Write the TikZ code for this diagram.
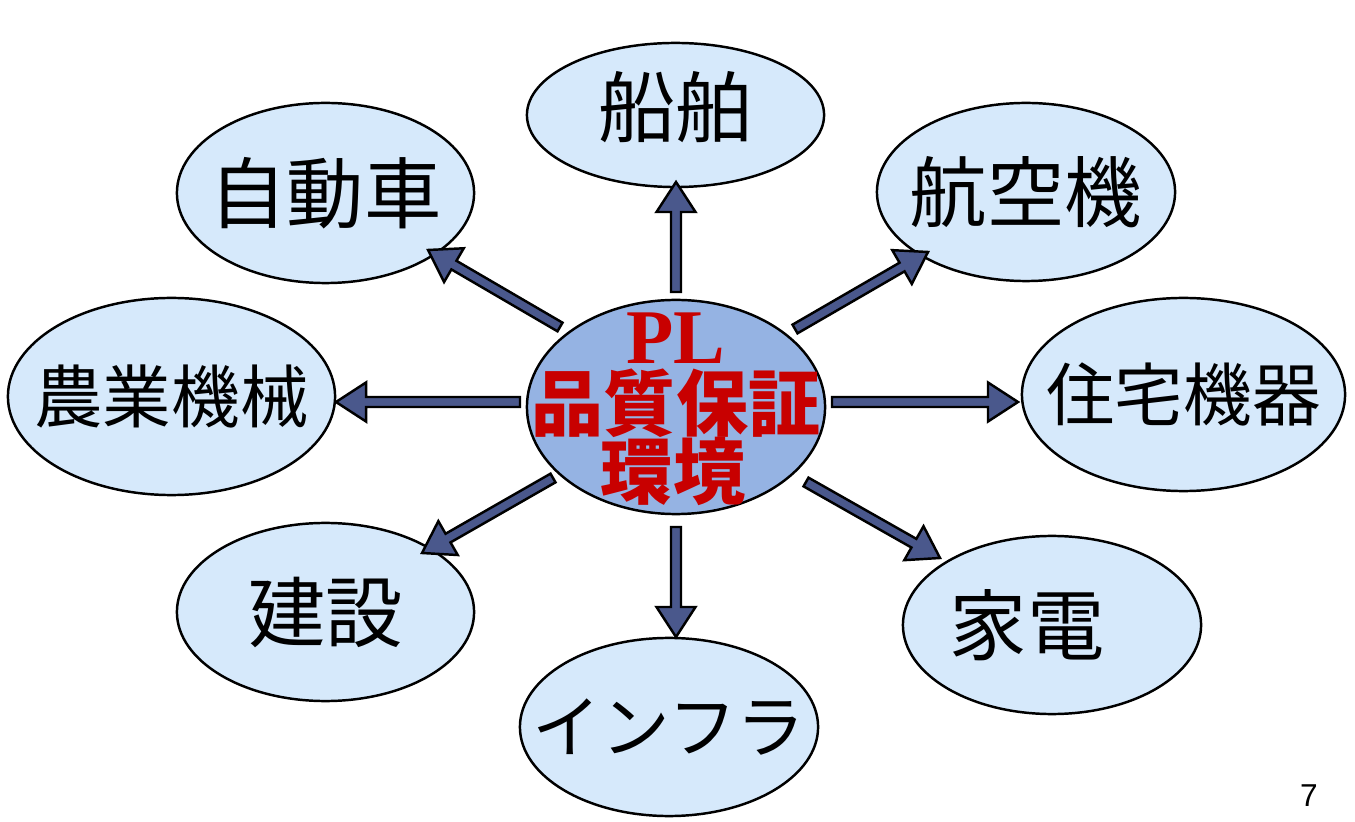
\documentclass[tikz,border=0pt]{standalone}
\usepackage{fontspec}
\setmainfont{Liberation Sans}
\newfontfamily\jp{Noto Sans CJK JP}
\newfontfamily\plserif{Liberation Serif}
\usetikzlibrary{shapes.geometric,calc}
\definecolor{ellfill}{RGB}{214,233,251}
\definecolor{midfill}{RGB}{149,179,227}
\definecolor{arrfill}{RGB}{74,88,140}
\definecolor{plred}{RGB}{200,0,0}
\tikzset{
  ell/.style={ellipse, draw=black, line width=0.7pt, fill=ellfill, inner sep=0pt},
  lab/.style={font=\jp\fontsize{22}{22}\selectfont, text=black},
  labs/.style={font=\jp\fontsize{19.5}{19.5}\selectfont, text=black},
  arr/.style={draw=black, line width=0.7pt, fill=arrfill, line join=miter},
}
\newcommand\blockarr[2]{%
  \coordinate (bac) at ($(#2)!0.30cm!(#1)$);
  \draw[arr] ($(#1)!0.05cm!90:(#2)$) -- ($(bac)!0.05cm!90:(#2)$) -- ($(bac)!0.195cm!90:(#2)$)
    -- (#2) -- ($(bac)!0.195cm!-90:(#2)$) -- ($(bac)!0.05cm!-90:(#2)$) -- ($(#1)!0.05cm!-90:(#2)$) -- cycle;
}
\begin{document}
\begin{tikzpicture}[x=0.01cm,y=-0.01cm]
\useasboundingbox (0,0) rectangle (1355,822);
% outer ellipses
\node[ell, minimum width=2.97cm, minimum height=1.44cm, label={[lab,yshift=0.08cm]center:船舶}] (ship) at (675.5,115) {};
\node[ell, minimum width=2.97cm, minimum height=1.80cm, label={[lab]center:自動車}] (car) at (325.5,193) {};
\node[ell, minimum width=2.98cm, minimum height=1.78cm, label={[lab]center:航空機}] (air) at (1026,192) {};
\node[ell, minimum width=3.27cm, minimum height=1.97cm, label={[labs]center:農業機械}] (agri) at (171.5,396.5) {};
\node[ell, minimum width=3.23cm, minimum height=1.93cm, label={[labs]center:住宅機器}] (house) at (1183.5,394.5) {};
\node[ell, minimum width=2.97cm, minimum height=1.78cm, label={[lab]center:建設}] (build) at (325.5,612) {};
\node[ell, minimum width=2.98cm, minimum height=1.78cm, label={[lab,xshift=-0.25cm]center:家電}] (elec) at (1052,625) {};
\node[ell, minimum width=2.98cm, minimum height=1.78cm, label={[labs]center:インフラ}] (infra) at (669,727) {};
% center
\node[ellipse, draw=black, line width=0.7pt, fill=midfill, inner sep=0pt, minimum width=2.98cm, minimum height=2.14cm] (c) at (676,407) {};
\node[text=plred, inner sep=0pt, font=\plserif\bfseries\fontsize{22}{22}\selectfont] (pl) at (676,338) {PL};
\node[text=plred, inner sep=0pt, font=\jp\bfseries\fontsize{20.5}{20.5}\selectfont] (qa) at (676,403) {品質保証};
\node[text=plred, inner sep=0pt, font=\jp\bfseries\fontsize{20.5}{20.5}\selectfont] (env) at (673,471) {環境};
% arrow end points
\coordinate (t1) at (676,292);  \coordinate (h1) at (676,182);
\coordinate (t2) at (560,327);  \coordinate (h2) at (428,250);
\coordinate (t3) at (795,329);  \coordinate (h3) at (928,252);
\coordinate (t4) at (520,402);  \coordinate (h4) at (336,402);
\coordinate (t5) at (832,402);  \coordinate (h5) at (1018,402);
\coordinate (t6) at (553,478);  \coordinate (h6) at (422,553);
\coordinate (t7) at (806,482);  \coordinate (h7) at (940,558);
\coordinate (t8) at (676,527);  \coordinate (h8) at (676,637);
\blockarr{t1}{h1}
\blockarr{t2}{h2}
\blockarr{t3}{h3}
\blockarr{t4}{h4}
\blockarr{t5}{h5}
\blockarr{t6}{h6}
\blockarr{t7}{h7}
\blockarr{t8}{h8}
% page number
\node[font=\fontsize{9}{9}\selectfont, inner sep=0pt] (pg) at (1309,796) {7};
\end{tikzpicture}
\end{document}
